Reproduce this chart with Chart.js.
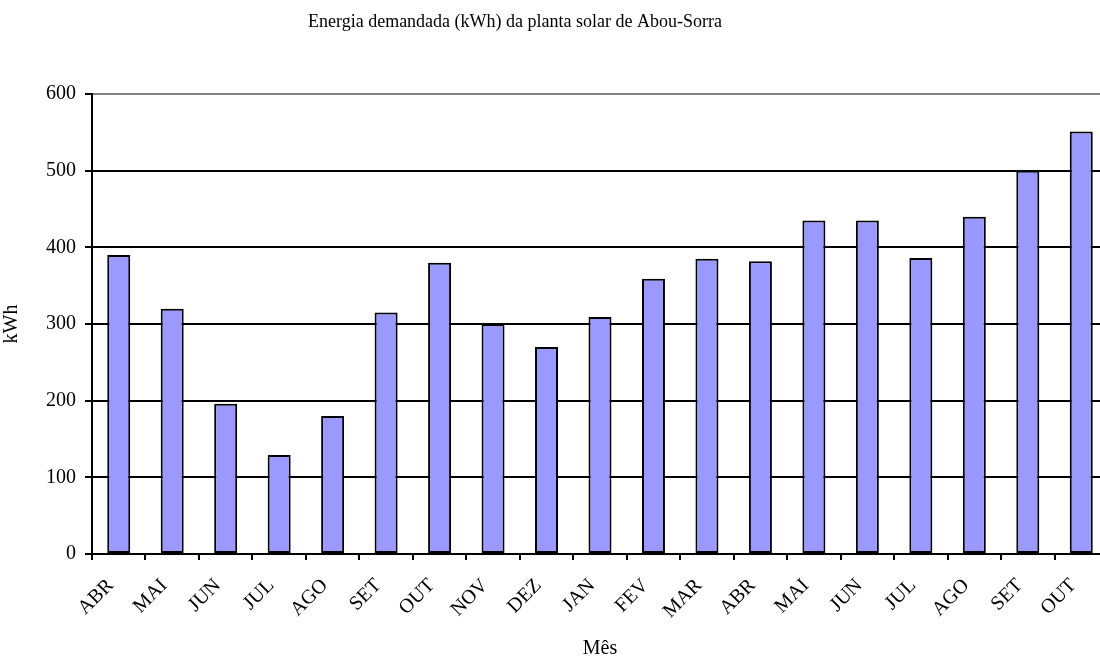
<!DOCTYPE html>
<html>
<head>
<meta charset="utf-8">
<style>
  html, body { margin: 0; padding: 0; background: #ffffff; overflow: hidden; }
  #wrap { width: 1100px; height: 658px; position: relative; overflow: hidden; }
  #c { position: absolute; left: 0; top: 0; }
</style>
<script src="https://cdn.jsdelivr.net/npm/chart.js@4.4.1/dist/chart.umd.min.js"></script>
</head>
<body>
<!-- the plot area runs a few pixels past the right edge of the frame -->
<div id="wrap"><canvas id="c" width="1110" height="658"></canvas></div>
<script>
// Monthly demanded energy (kWh), Abou-Sorra solar plant
const meses = ['ABR', 'MAI', 'JUN', 'JUL', 'AGO', 'SET', 'OUT', 'NOV', 'DEZ', 'JAN',
               'FEV', 'MAR', 'ABR', 'MAI', 'JUN', 'JUL', 'AGO', 'SET', 'OUT'];
const energiaKWh = [390, 320, 196, 129, 180, 315, 380, 300, 270, 309,
                    359, 385, 382, 435, 435, 386, 440, 500, 551];
const yTicks = [0, 100, 200, 300, 400, 500, 600];

const tituloGrafico = 'Energia demandada (kWh) da planta solar de Abou-Sorra';
const FONT = '"Liberation Serif", "Times New Roman", serif';

// Chart title
const tituloPlugin = {
  id: 'tituloPlugin',
  afterDraw(chart) {
    const ctx = chart.ctx;
    ctx.save();
    ctx.font = '18px ' + FONT;
    ctx.fillStyle = '#000000';
    ctx.textAlign = 'center';
    ctx.textBaseline = 'middle';
    ctx.fillText(tituloGrafico, 515, 22);
    ctx.restore();
  }
};

new Chart(document.getElementById('c'), {
  type: 'bar',
  data: {
    labels: meses,
    datasets: [{
      label: 'kWh',
      data: energiaKWh,
      backgroundColor: '#9999FF',
      borderColor: '#000000',
      borderWidth: 2,
      borderSkipped: false,
      categoryPercentage: 1.0,
      barPercentage: 0.43
    }]
  },
  options: {
    responsive: false,
    animation: false,
    devicePixelRatio: 1,
    layout: { padding: { top: 94, right: 2, left: 0, bottom: 0 } },
    plugins: {
      legend: { display: false },
      tooltip: { enabled: false },
      title: { display: false }
    },
    scales: {
      x: {
        afterFit(scale) {
          scale.height = 104;
          scale.paddingLeft = 0;
          scale.paddingRight = 0;
        },
        grid: {
          offset: true,
          drawOnChartArea: false,
          drawTicks: true,
          tickLength: 6,
          color: '#000000',
          tickColor: '#000000',
          lineWidth: 2
        },
        border: { display: true, color: '#000000', width: 2 },
        ticks: {
          color: '#000000',
          font: { family: FONT, size: 20 },
          minRotation: 45,
          maxRotation: 45,
          autoSkip: false,
          padding: 14,
          labelOffset: -8
        },
        title: {
          display: true,
          text: 'Mês',
          color: '#000000',
          font: { family: FONT, size: 20 },
          padding: { top: 0, bottom: -3 },
          align: 'center'
        }
      },
      y: {
        min: 0,
        max: 600,
        afterFit(scale) {
          scale.width = 92;
          scale.paddingTop = 0;
          scale.paddingBottom = 0;
        },
        afterBuildTicks(scale) { scale.ticks = yTicks.map(v => ({ value: v })); },
        grid: {
          drawTicks: true,
          tickLength: 7,
          color: (ctx) => (ctx.tick && ctx.tick.value === 600) ? '#808080' : '#000000',
          tickColor: '#000000',
          lineWidth: 2
        },
        border: { display: true, color: '#000000', width: 2 },
        ticks: {
          color: '#000000',
          font: { family: FONT, size: 20 },
          padding: 9
        },
        title: {
          display: true,
          text: 'kWh',
          color: '#000000',
          font: { family: FONT, size: 20 },
          padding: { top: 0, bottom: 5 }
        }
      }
    }
  },
  plugins: [tituloPlugin]
});
</script>
</body>
</html>
